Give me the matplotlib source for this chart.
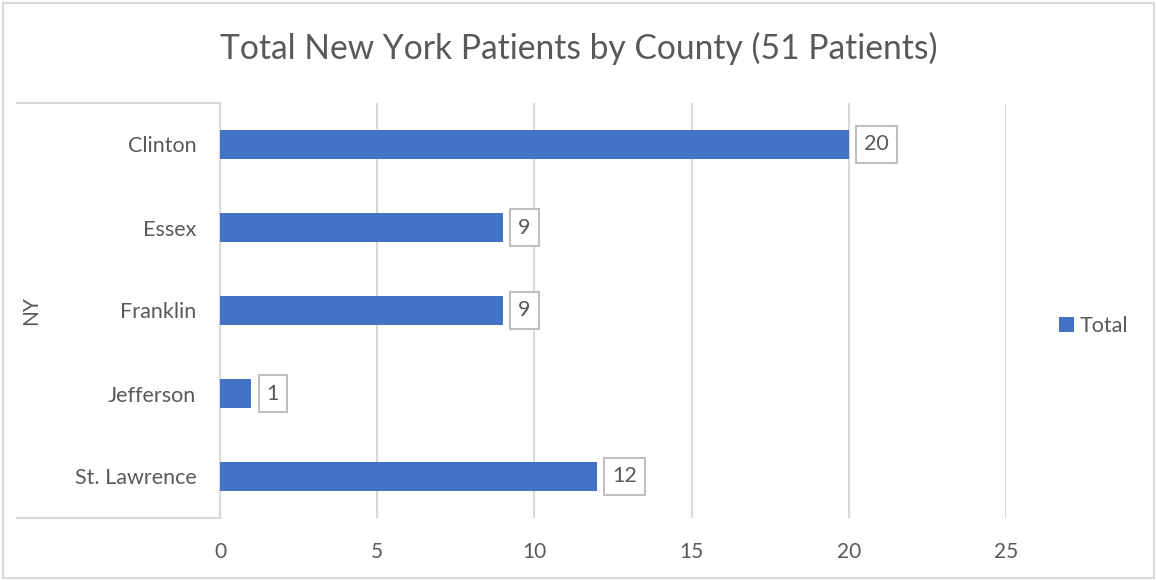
import matplotlib.pyplot as plt
from matplotlib.patches import Rectangle

counties = ["Clinton", "Essex", "Franklin", "Jefferson", "St. Lawrence"]
totals = [20, 9, 9, 1, 12]
state = "NY"
x_ticks = [0, 5, 10, 15, 20, 25]

bar_color = "#4472C4"
text_color = "#595959"
grid_color = "#D9D9D9"

plt.rcParams['font.family'] = ['Lato', 'DejaVu Sans']

fig = plt.figure(figsize=(11.56, 5.8), dpi=100)
ax = fig.add_axes([220 / 1156, 1 - 518 / 580, 786 / 1156, 415 / 580])

y = list(range(len(counties)))
ax.barh(y, totals, height=0.35, color=bar_color, label="Total", zorder=3)
ax.set_ylim(len(counties) - 0.5, -0.5)
ax.set_xlim(0, 25)
ax.set_yticks(y)
ax.set_yticklabels(counties, fontsize=15.5, color=text_color)
ax.set_xticks(x_ticks)
ax.set_xticklabels([str(t) for t in x_ticks], fontsize=15, color=text_color)
ax.tick_params(axis='both', length=0)
ax.tick_params(axis='y', pad=17)
ax.tick_params(axis='x', pad=17)
ax.grid(axis='x', color=grid_color, linewidth=1.5, zorder=0)
for s in ["top", "right", "bottom"]:
    ax.spines[s].set_visible(False)
ax.spines["left"].set_color(grid_color)
ax.spines["left"].set_linewidth(1.5)

# category group frame
for yy in (0, 1):
    ax.plot([-0.258, 0], [yy, yy], transform=ax.transAxes, color=grid_color,
            linewidth=1.5, clip_on=False)
ax.text(-0.24, 0.5, state, transform=ax.transAxes, rotation=90,
        ha='center', va='center', fontsize=15, color=text_color)

# data labels
for yi, v in zip(y, totals):
    ax.annotate(str(v), (v, yi), xytext=(11, 0), textcoords='offset points',
                ha='left', va='center', fontsize=15.5, color=text_color,
                bbox=dict(boxstyle='square,pad=0.38', fc='white', ec='#BFBFBF', lw=1.5))

fig.suptitle("Total New York Patients by County (51 Patients)", x=579 / 1156,
             y=1 - 48 / 580, va='center', fontsize=24.2, color=text_color)

leg = fig.legend(loc='center left', bbox_to_anchor=(1040 / 1156, 1 - 326 / 580),
                 frameon=False, fontsize=15.5, handlelength=0.7, handleheight=0.7,
                 handletextpad=0.25, labelcolor=text_color)

fig.patches.append(Rectangle((3 / 1156, 2 / 580), 1151 / 1156, 575 / 580,
                             transform=fig.transFigure, fill=False,
                             ec=grid_color, lw=1.5))

fig.savefig("out.png", dpi=100)
